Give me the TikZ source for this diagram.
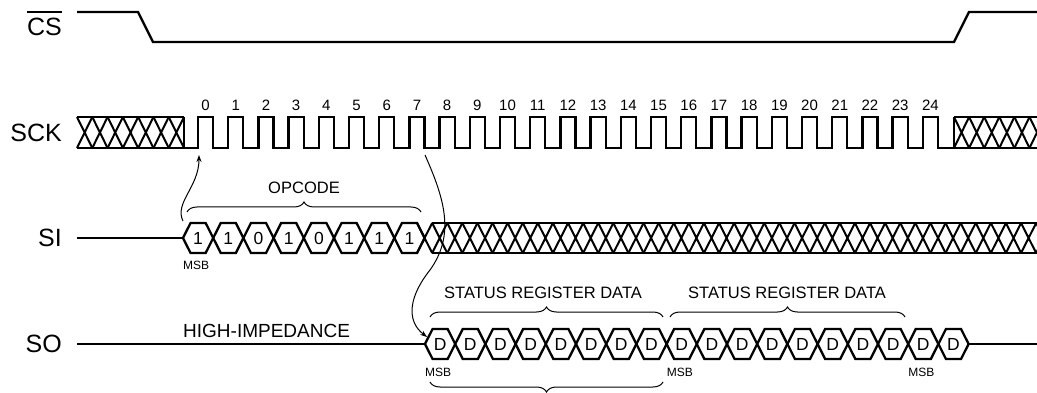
\documentclass[tikz,border=0pt]{standalone}
\usepackage{fontspec}
\setmainfont{Liberation Sans}
\usetikzlibrary{decorations.pathreplacing,arrows.meta}
\begin{document}
\begin{tikzpicture}[x=1pt,y=-1pt,
  sig/.style={line width=2.3pt, line join=miter, line cap=butt},
  hatchline/.style={line width=2pt},
  lbl/.style={font=\fontsize{25}{25}\selectfont, anchor=east, inner sep=0pt},
  num/.style={font=\fontsize{15}{15}\selectfont, inner sep=0pt},
  bit/.style={font=\fontsize{17.5}{17.5}\selectfont, inner sep=0pt},
  note/.style={font=\fontsize{16.5}{16.5}\selectfont, inner sep=0pt},
  msb/.style={font=\fontsize{12}{12}\selectfont, inner sep=0pt, anchor=west},
  brc/.style={decorate, decoration={brace, amplitude=10pt}, line width=1pt},
  arr/.style={line width=1pt, -{Stealth[length=7pt,width=5pt]}}
]
\useasboundingbox (0,0) rectangle (1037,393);

% ---------- labels ----------
\node[lbl] (cs) at (62,27) {CS};
\draw[line width=1.3pt] ([yshift=6pt]cs.north west) -- ([yshift=6pt]cs.north east);
\node[lbl] (sck) at (62,132.5) {SCK};
\node[lbl] (si) at (62,238) {SI};
\node[lbl] (so) at (62,344) {SO};

% ---------- CS ----------
\draw[sig] (77,12) -- (138,12) -- (153,42) -- (954,42) -- (969,12) -- (1037,12);

% ---------- SCK ----------
\draw[hatchline] (77,117) -- (184,117) (77,148) -- (184,148);
\draw[sig] (184,117) -- (184,148);
\foreach \i in {0,...,6} {
  \draw[hatchline] ({77+15.29*\i},117) -- ({77+15.29*(\i+1)},148)
                   ({77+15.29*\i},148) -- ({77+15.29*(\i+1)},117);
}
\draw[sig] (184,148) -- (198,148)
  \foreach \k in {0,...,24} { -- ++(0,-31) -- ++(15.1,0) -- ++(0,31) -- ++(15.1,0) }
  -- (954,148) -- (954,117);
\draw[hatchline] (954,117) -- (1037,117) (954,148) -- (1037,148);
\foreach \i in {0,...,5} {
  \draw[hatchline] ({954+15.1*\i},117) -- ({954+15.1*(\i+1)},148)
                   ({954+15.1*\i},148) -- ({954+15.1*(\i+1)},117);
}
\foreach \k in {0,...,24} {
  \node[num] (n\k) at ({198+30.2*\k+7.55},105) {\k};
}

% ---------- SI ----------
\draw[sig] (77,238) -- (183,238);
\foreach \k in {0,...,7} {
  \pgfmathsetmacro\bl{183+30.2*\k}
  \pgfmathsetmacro\br{\bl+30.2}
  \draw[sig] (\bl,238) -- (\bl+7.55,223) -- (\br-7.55,223) -- (\br,238)
             -- (\br-7.55,253) -- (\bl+7.55,253) -- cycle;
}
\foreach \b [count=\k from 0] in {1,1,0,1,0,1,1,1} {
  \node[bit] (si\k) at ({183+30.2*\k+15.1},238) {\b};
}
\draw[hatchline] (432.15,223) -- (1037,223) (432.15,253) -- (1037,253);
\foreach \j in {0,...,41} {
  \draw[hatchline] ({424.6+15.1*\j-7.55},223) -- ({424.6+15.1*\j+7.55},253)
                   ({424.6+15.1*\j-7.55},253) -- ({424.6+15.1*\j+7.55},223);
}
\node[msb] (msbi) at (183,265) {MSB};
\draw[brc] (187,212) -- (421,212);
\node[note] (opc) at (304,188) {OPCODE};

% ---------- SO ----------
\draw[sig] (77,344) -- (425,344);
\foreach \k in {0,...,17} {
  \pgfmathsetmacro\bl{425+30.2*\k}
  \pgfmathsetmacro\br{\bl+30.2}
  \draw[sig] (\bl,344) -- (\bl+7.55,329) -- (\br-7.55,329) -- (\br,344)
             -- (\br-7.55,359) -- (\bl+7.55,359) -- cycle;
  \node[bit] (d\k) at ({\bl+15.1},344) {D};
}
\draw[sig] (968.6,344) -- (1037,344);
\node[note, anchor=west, font=\fontsize{19}{19}\selectfont] (hiz) at (183,331) {HIGH-IMPEDANCE};
\node[msb] (msb0) at (425,372) {MSB};
\node[msb] (msb1) at (666.6,372) {MSB};
\node[msb] (msb2) at (908.2,372) {MSB};
\draw[brc] (430,317) -- (663,317);
\draw[brc] (670,317) -- (905,317);
\node[note] (srd1) at (543,293) {STATUS REGISTER DATA};
\node[note] (srd2) at (787,293) {STATUS REGISTER DATA};
\draw[brc] (663,382) -- (430,382);

% ---------- arrows ----------
\coordinate (a1s) at (183,221);
\coordinate (a1e) at (199,155);
\draw[arr] (a1s) .. controls (174,203) and (199,187) .. (a1e);
\coordinate (a2s) at (425,155);
\coordinate (a2m) at (430,270);
\coordinate (a2e) at (427,337);
\draw[arr] (a2s) .. controls (445,200) and (455,235) .. (a2m)
                 .. controls (410,295) and (405,320) .. (a2e);
\end{tikzpicture}
\end{document}
